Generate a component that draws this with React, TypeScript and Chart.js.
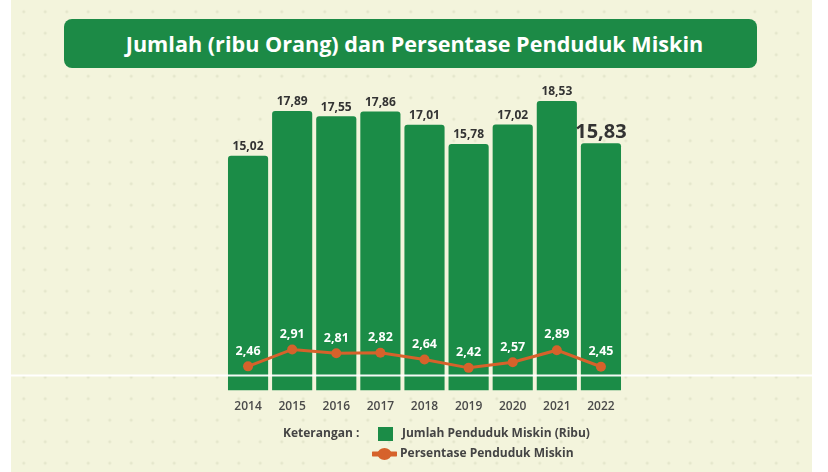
import React, { useEffect, useRef } from "react";
import { Chart, registerables } from "chart.js";
Chart.register(...registerables);

const years = ["2014", "2015", "2016", "2017", "2018", "2019", "2020", "2021", "2022"];
const jumlahMiskin = [15.02, 17.89, 17.55, 17.86, 17.01, 15.78, 17.02, 18.53, 15.83];
const persenMiskin = [2.46, 2.91, 2.81, 2.82, 2.64, 2.42, 2.57, 2.89, 2.45];
const titleText = "Jumlah (ribu Orang) dan Persentase Penduduk Miskin";
const legendHeading = "Keterangan :";
const seriesNames = ["Jumlah Penduduk Miskin (Ribu)", "Persentase Penduduk Miskin"];

const GREEN = "#1b8c47";
const ORANGE = "#d6622b";
const FONT = "'Open Sans', 'Noto Sans', sans-serif";

const fmt = (v: number) => v.toFixed(2).replace(".", ",");

const labelPlugin = {
  id: "customLabels",
  afterDatasetDraw(chart: any, args: any) {
    if (args.meta.type !== "bar") return;
    const ctx = chart.ctx;
    const { bottom } = chart.chartArea;
    ctx.save();
    ctx.strokeStyle = "rgba(255,255,255,0.95)";
    ctx.lineWidth = 2;
    ctx.beginPath();
    ctx.moveTo(11, bottom - 15);
    ctx.lineTo(812, bottom - 15);
    ctx.stroke();
    ctx.restore();
  },
  afterDatasetsDraw(chart: any) {
    const ctx = chart.ctx;
    ctx.save();
    ctx.textAlign = "center";
    ctx.textBaseline = "bottom";
    chart.data.datasets.forEach((ds: any, di: number) => {
      const meta = chart.getDatasetMeta(di);
      meta.data.forEach((el: any, i: number) => {
        const v = ds.data[i] as number;
        if (meta.type === "bar") {
          const last = i === ds.data.length - 1;
          ctx.fillStyle = "#333333";
          ctx.font = last ? `bold 20px ${FONT}` : `bold 12px ${FONT}`;
          ctx.fillText(fmt(v), el.x, el.y - (last ? 1 : 3));
        } else {
          ctx.fillStyle = "#ffffff";
          ctx.font = `bold 12.5px ${FONT}`;
          ctx.fillText(fmt(v), el.x, el.y - 9);
        }
      });
    });
    ctx.restore();
  },
};

function ChartCanvas() {
  const ref = useRef<HTMLCanvasElement | null>(null);
  useEffect(() => {
    if (!ref.current) return;
    const chart = new Chart(ref.current, {
      type: "bar",
      data: {
        labels: years,
        datasets: [
          {
            type: "line",
            label: seriesNames[1],
            data: persenMiskin,
            yAxisID: "y1",
            borderColor: ORANGE,
            backgroundColor: ORANGE,
            borderWidth: 3,
            pointRadius: 5,
            pointHoverRadius: 5,
            pointBackgroundColor: ORANGE,
            pointBorderWidth: 0,
            tension: 0,
            order: 0,
          } as any,
          {
            type: "bar",
            label: seriesNames[0],
            data: jumlahMiskin,
            yAxisID: "y",
            backgroundColor: GREEN,
            borderRadius: { topLeft: 3, topRight: 3, bottomLeft: 0, bottomRight: 0 },
            borderSkipped: false,
            categoryPercentage: 0.91,
            barPercentage: 1,
            order: 1,
          } as any,
        ],
      },
      options: {
        animation: false,
        responsive: false,
        maintainAspectRatio: false,
        layout: { padding: { left: 226, right: 205, top: 90, bottom: 49 } },
        plugins: { legend: { display: false }, tooltip: { enabled: false } },
        scales: {
          x: {
            grid: { display: false, drawTicks: false },
            border: { display: false },
            ticks: {
              padding: 9,
              color: "#4a4a4a",
              font: { family: FONT, size: 12, weight: "600" as any },
            },
          },
          y: {
            display: false,
            min: 0,
            max: 19.23,
          },
          y1: {
            display: false,
            min: 1.815,
            max: 9.81,
          },
        },
      },
      plugins: [labelPlugin],
    });
    return () => chart.destroy();
  }, []);
  return (
    <canvas
      ref={ref}
      width={828}
      height={472}
      style={{ position: "absolute", left: 0, top: 0, width: 828, height: 472 }}
    />
  );
}

export default function App() {
  const textStyle: React.CSSProperties = {
    position: "absolute",
    fontFamily: FONT,
    fontWeight: 700,
    fontSize: 12,
    color: "#444444",
    lineHeight: "16px",
    whiteSpace: "nowrap",
  };
  return (
    <div style={{ position: "absolute", left: 0, top: 0, width: 828, height: 472, background: "#ffffff", overflow: "hidden" }}>
      <div
        style={{
          position: "absolute",
          left: 11,
          top: 0,
          width: 801,
          height: 472,
          backgroundColor: "#f3f4dc",
          backgroundImage: "radial-gradient(circle, rgba(215,218,190,0.55) 1.2px, transparent 1.8px)",
          backgroundSize: "21.5px 21.5px",
          backgroundPosition: "2px 1px",
        }}
      />
      <div
        style={{
          position: "absolute",
          left: 64,
          top: 19,
          width: 693,
          height: 49,
          borderRadius: 8,
          background: "#1c8a46",
          color: "#ffffff",
          fontFamily: FONT,
          fontWeight: 700,
          fontSize: 21.6,
          lineHeight: "49px",
          textAlign: "center",
          paddingLeft: 8,
          boxSizing: "border-box",
        }}
      >
        {titleText}
      </div>
      <ChartCanvas />
      <div style={{ ...textStyle, left: 283, top: 425 }}>{legendHeading}</div>
      <div style={{ position: "absolute", left: 378, top: 427, width: 15, height: 14, background: GREEN }} />
      <div style={{ ...textStyle, left: 402, top: 425 }}>{seriesNames[0]}</div>
      <svg style={{ position: "absolute", left: 372, top: 447 }} width={25} height={14}>
        <line x1={1} y1={7} x2={24} y2={7} stroke={ORANGE} strokeWidth={5} strokeLinecap="round" />
        <ellipse cx={12.5} cy={7} rx={7} ry={6} fill={ORANGE} />
      </svg>
      <div style={{ ...textStyle, left: 400, top: 445 }}>{seriesNames[1]}</div>
    </div>
  );
}
